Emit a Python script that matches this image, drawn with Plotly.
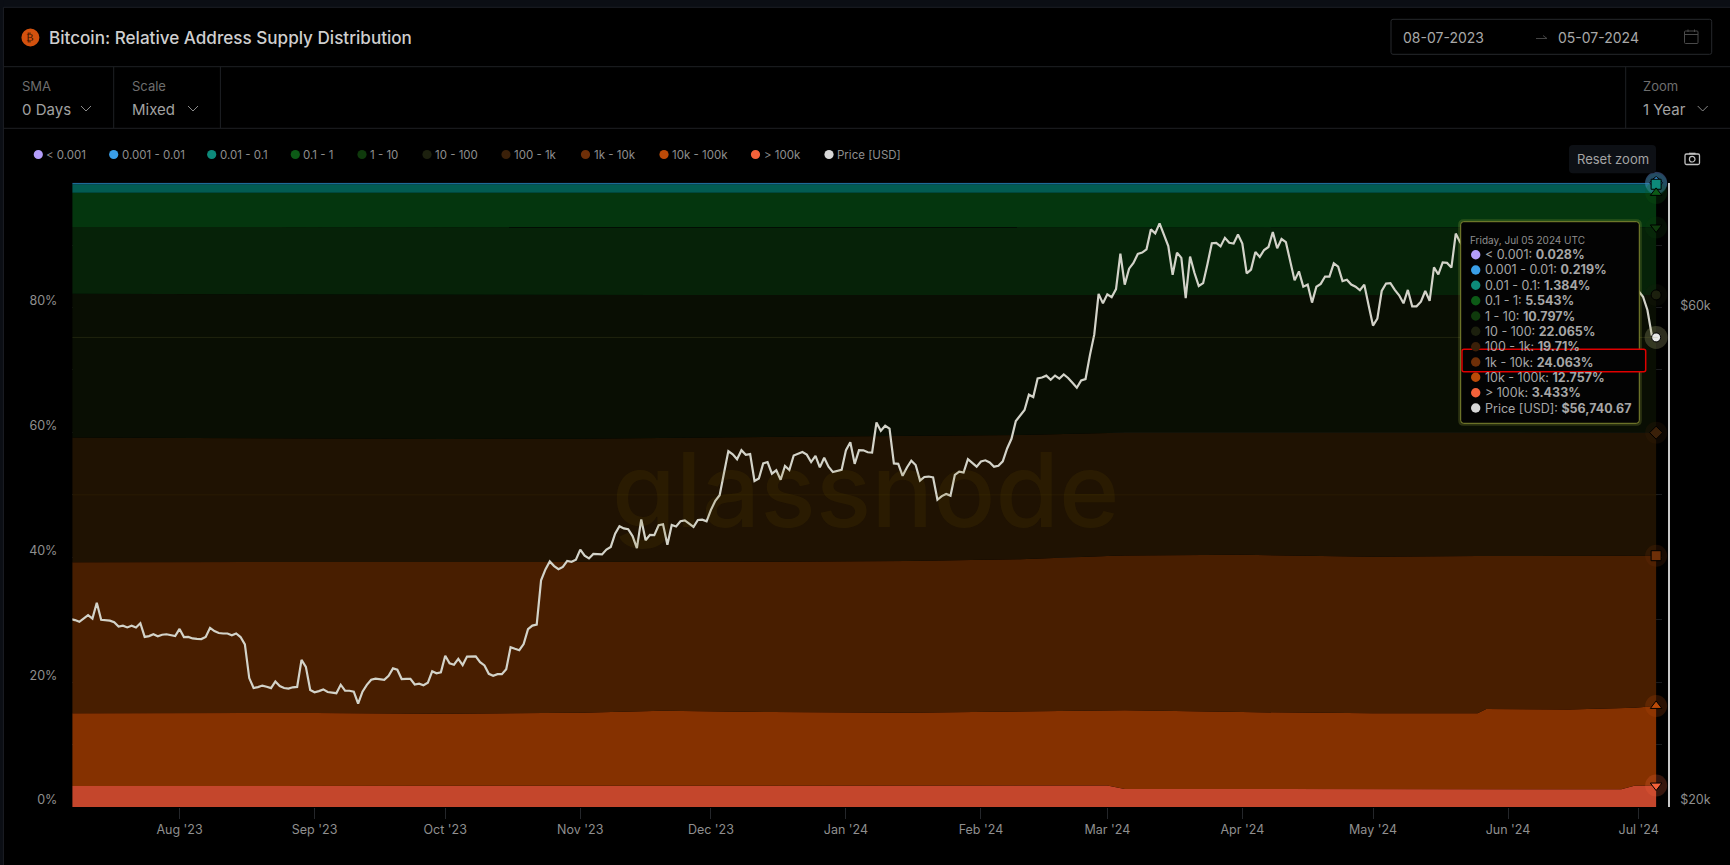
import numpy as np
import pandas as pd
import plotly.graph_objects as go

# ---------- data ----------
price_jul23 = [30350,30290,30170,30410,30620,30390,31480,30310,30290,30250,30140,29860,29920,29800,29910,29800,30080,29180,29230,29350,29220,29320,29350,29280,29230]
price_aug23 = [29700,29170,29180,29080,29050,29040,29180,29770,29560,29430,29400,29400,29280,29400,29170,28700,26630,26050,26100,26190,26120,26040,26430,26160,26050,26010,26090,26110,27730,27300,25930]
price_sep23 = [25800,25870,25970,25820,25790,25750,26240,25900,25890,25840,25160,25840,26230,26530,26600,26570,26530,26760,27210,27130,26570,26580,26580,26250,26300,26210,26350,27030,26910,26970]
price_oct23 = [27980,27510,27430,27790,27410,27930,27960,27950,27590,27390,26880,26760,26860,26860,27160,28520,28420,28330,28720,29680,29920,29990,33090,33900,34500,34150,33910,34090,34540,34480,34640]
price_nov23 = [35420,34940,34730,35080,35050,35040,35420,35630,36700,37310,37130,37060,36500,35540,37880,36160,36600,36580,37390,37470,35810,37410,37290,37720,37790,37480,37250,37830,37850,37710]
price_dec23 = [38690,39470,39970,41990,44080,43770,43290,44170,43720,43790,41250,41480,42890,43020,41930,42240,41360,42650,42270,43650,43860,43990,43740,43020,43610,42520,43440,42580,42070,42140,42280]
price_jan24 = [44180,44950,42850,44180,44160,43970,43930,46970,46110,46630,46340,42890,42850,41730,42510,43150,42740,41280,41620,41660,41580,39570,39890,40080,39930,41820,42120,42030,43300,42940,42580]
price_feb24 = [43080,43190,42990,42580,42660,43090,44340,45300,47130,47770,48290,49960,49700,51800,51900,52120,51650,52130,51780,52260,51850,51300,50740,51570,51730,54520,57090,62500,61200]
price_mar24 = [62440,62030,63170,68330,63800,66100,66930,68300,68500,69000,72120,71480,73100,71400,69500,65200,68500,67700,61900,67900,65500,63600,64000,66800,69950,70000,69450,70780,70000,69900,71300]
price_apr24 = [69900,65400,65970,68600,67840,68900,69360,71700,69150,70600,70100,67400,64400,65700,63500,63800,61300,63500,63900,64950,64950,66880,66400,64300,64500,63800,63500,63000,63800,60900]
price_may24 = [58250,59150,62900,63950,64000,63050,62300,61200,63050,60800,60800,61420,62900,61550,66280,65250,67030,66950,66250,71450,70100,69150,67900,68500,69300,68500,69400,68350,67650,68350,67500]
price_jun24 = [67750,67750,68800,70550,71100,70800,69350,69300,69650,69500,67300,68250,66750,66000,66200,66650,66500,65150,64960,64850,64100,64260,63200,60280,61800,60860,61700,60300,60900,62700]
price_jul24 = [62850,62100,60300,57050,56740.67]

band_dates = ["2023-07-07","2023-08-01","2023-09-01","2023-10-01","2023-11-01","2023-11-20","2023-12-15","2024-01-15","2024-02-10","2024-03-01","2024-03-05","2024-04-01","2024-05-01","2024-05-25","2024-05-27","2024-06-15","2024-06-27","2024-06-30","2024-07-05"]
share_gt100k   = [3.36,3.36,3.36,3.36,3.40,3.42,3.42,3.44,3.45,3.45,2.90,2.85,2.83,2.83,2.83,2.83,2.83,3.40,3.433]
share_10k_100k = [11.64,11.69,11.69,11.59,11.70,11.98,11.78,11.66,11.85,12.05,12.60,12.35,12.17,12.17,12.87,12.77,12.97,12.50,12.757]
share_1k_10k   = [24.2,24.15,24.15,24.25,24.1,23.85,24.1,24.3,24.4,24.7,24.8,25.2,25.1,25.2,24.5,24.6,24.4,24.3,24.063]
share_100_1k   = [20.0,19.9,19.8,19.75,19.8,19.85,19.9,20.0,19.9,19.7,19.7,19.6,19.9,19.8,19.8,19.8,19.8,19.8,19.71]
share_10_100   = [23.0,23.05,23.1,23.1,23.0,22.9,22.8,22.6,22.4,22.1,22.0,22.0,22.0,22.0,22.0,22.0,22.0,22.0,22.065]
share_1_10     = [10.7,10.75,10.75,10.8,10.85,10.85,10.85,10.85,10.8,10.8,10.8,10.8,10.8,10.8,10.8,10.8,10.8,10.8,10.797]
share_01_1     = [5.5,5.5,5.55,5.55,5.55,5.55,5.55,5.55,5.55,5.55,5.55,5.55,5.55,5.55,5.55,5.55,5.55,5.55,5.543]
share_001_01   = [1.35,1.35,1.35,1.35,1.35,1.35,1.36,1.36,1.37,1.37,1.38,1.38,1.38,1.38,1.38,1.38,1.38,1.38,1.384]
share_0001_001 = [0.22,0.22,0.22,0.22,0.22,0.22,0.22,0.22,0.22,0.22,0.22,0.22,0.22,0.22,0.22,0.22,0.22,0.22,0.219]
share_lt0001   = [0.03,0.03,0.03,0.03,0.03,0.03,0.03,0.03,0.03,0.03,0.03,0.03,0.03,0.03,0.03,0.03,0.03,0.03,0.028]

legend_names = ["< 0.001","0.001 - 0.01","0.01 - 0.1","0.1 - 1","1 - 10","10 - 100","100 - 1k","1k - 10k","10k - 100k","> 100k","Price [USD]"]
tooltip_values = ["0.028%","0.219%","1.384%","5.543%","10.797%","22.065%","19.71%","24.063%","12.757%","3.433%","$56,740.67"]
tick_dates = ["2023-08-01","2023-09-01","2023-10-01","2023-11-01","2023-12-01","2024-01-01","2024-02-01","2024-03-01","2024-04-01","2024-05-01","2024-06-01","2024-07-01"]
tick_labels = ["Aug '23","Sep '23","Oct '23","Nov '23","Dec '23","Jan '24","Feb '24","Mar '24","Apr '24","May '24","Jun '24","Jul '24"]
pct_ticks = [0,10,20,30,40,50,60,70,80,90]
pct_labels = ["0%","","20%","","40%","","60%","","80%",""]
price_ticks = [20000,60000]
price_labels = ["$20k","$60k"]

# ---------- styles ----------
W, H = 1730, 865
FONT = "Inter"
dot_colors = ["#b39dfa","#3a9fe8","#0d8a7a","#0c5a16","#0f3a0c","#1c200e","#3a2009","#6e2f08","#bb4a08","#f4623a","#d8d8d8"]
fill_colors = ["#7a6ab0","#1d6a96","#025c52","#04360e","#062208","#090e03","#1f1202","#481e00","#853100","#c4462c"]
marker_symbols = ["circle","diamond","square","triangle-up","triangle-down","circle","diamond","square","triangle-up","triangle-down"]

def px(x): return x / W
def py(y): return 1 - y / H

prices = price_jul23+price_aug23+price_sep23+price_oct23+price_nov23+price_dec23+price_jan24+price_feb24+price_mar24+price_apr24+price_may24+price_jun24+price_jul24
price_dates = pd.date_range("2023-07-07", periods=len(prices), freq="D")
stack_bottom_up = [share_gt100k,share_10k_100k,share_1k_10k,share_100_1k,share_10_100,share_1_10,share_01_1,share_001_01,share_0001_001,share_lt0001]

fig = go.Figure()
for i, vals in enumerate(stack_bottom_up):
    idx = 9 - i
    fig.add_trace(go.Scatter(x=band_dates, y=vals, name=legend_names[idx], stackgroup="bands",
                             mode="lines", line=dict(width=0), fillcolor=fill_colors[idx],
                             hoverinfo="skip", showlegend=False, yaxis="y"))
fig.add_trace(go.Scatter(x=price_dates, y=prices, name="Price [USD]", mode="lines",
                         line=dict(color="#d3d3c9", width=2.2), yaxis="y2", showlegend=False, hoverinfo="skip"))

# hover markers at the last date (halo, then symbol), drawn from the top of the stack down
last = band_dates[-1]
cum = np.cumsum([v[-1] for v in stack_bottom_up])
for i, c in reversed(list(enumerate(cum))):
    idx = 9 - i
    fig.add_trace(go.Scatter(x=[last], y=[c], mode="markers", yaxis="y", showlegend=False, hoverinfo="skip", cliponaxis=False,
                             marker=dict(size=22, color=dot_colors[idx], opacity=0.22, line=dict(width=0))))
for i, c in reversed(list(enumerate(cum))):
    idx = 9 - i
    fig.add_trace(go.Scatter(x=[last], y=[c], mode="markers", yaxis="y", showlegend=False, hoverinfo="skip", cliponaxis=False,
                             marker=dict(size=10, color=dot_colors[idx], symbol=marker_symbols[idx], line=dict(width=1, color="#000"))))
fig.add_trace(go.Scatter(x=[price_dates[-1]], y=[prices[-1]], mode="markers", yaxis="y2", showlegend=False, hoverinfo="skip", cliponaxis=False,
                         marker=dict(size=23, color="#b8b880", opacity=0.25, line=dict(width=0))))
fig.add_trace(go.Scatter(x=[price_dates[-1]], y=[prices[-1]], mode="markers", yaxis="y2", showlegend=False, hoverinfo="skip", cliponaxis=False,
                         marker=dict(size=9, color="#e8e8e8", line=dict(width=1, color="#000"))))

shapes, notes = [], []

def rect(x0, y0, x1, y1, fill=None, line=None, lw=1, layer="above"):
    shapes.append(dict(type="rect", xref="paper", yref="paper", x0=px(x0), x1=px(x1), y0=py(y0), y1=py(y1),
                       fillcolor=fill or "rgba(0,0,0,0)", line=dict(color=line or "rgba(0,0,0,0)", width=lw if line else 0), layer=layer))
def seg(x0, y0, x1, y1, color, lw=1, layer="above"):
    shapes.append(dict(type="line", xref="paper", yref="paper", x0=px(x0), x1=px(x1), y0=py(y0), y1=py(y1),
                       line=dict(color=color, width=lw), layer=layer))
def circ(cx, cy, r, fill, line=None, lw=1):
    shapes.append(dict(type="circle", xref="paper", yref="paper", x0=px(cx-r), x1=px(cx+r), y0=py(cy+r), y1=py(cy-r),
                       fillcolor=fill, line=dict(color=line or "rgba(0,0,0,0)", width=lw if line else 0), layer="above"))
def round_path(x0, y0, x1, y1, r):
    pts = [(x0+r,y0),(x1-r,y0),(x1,y0),(x1,y0+r),(x1,y1-r),(x1,y1),(x1-r,y1),(x0+r,y1),(x0,y1),(x0,y1-r),(x0,y0+r),(x0,y0),(x0+r,y0)]
    p = [(px(a),py(b)) for a,b in pts]
    return (f"M{p[0][0]},{p[0][1]} L{p[1][0]},{p[1][1]} Q{p[2][0]},{p[2][1]} {p[3][0]},{p[3][1]} L{p[4][0]},{p[4][1]} "
            f"Q{p[5][0]},{p[5][1]} {p[6][0]},{p[6][1]} L{p[7][0]},{p[7][1]} Q{p[8][0]},{p[8][1]} {p[9][0]},{p[9][1]} "
            f"L{p[10][0]},{p[10][1]} Q{p[11][0]},{p[11][1]} {p[12][0]},{p[12][1]} Z")
def rrect(x0, y0, x1, y1, r, fill=None, line=None, lw=1):
    shapes.append(dict(type="path", xref="paper", yref="paper", path=round_path(x0,y0,x1,y1,r),
                       fillcolor=fill or "rgba(0,0,0,0)", line=dict(color=line or "rgba(0,0,0,0)", width=lw if line else 0), layer="above"))
def text(x, y, s, size=13, color="#9a9a9a", anchor="left", weight=None, font=FONT):
    f = dict(family=font, size=size, color=color)
    if weight: f["weight"] = weight
    notes.append(dict(xref="paper", yref="paper", x=px(x), y=py(y), text=s, showarrow=False,
                      xanchor=anchor, yanchor="middle", font=f, borderpad=0, borderwidth=0))
def chevron(cx, cy, c="#8a8a8a"):
    seg(cx-5, cy-3, cx, cy+2, c, 1); seg(cx, cy+2, cx+5, cy-3, c, 1)

# page chrome
LINE = "#1e2024"
rect(0, 0, W, 7.3, fill="#0b0e14", layer="below")
rect(0, 0, 3.4, H, fill="#0b0e14", layer="below")
seg(3.4, 7.3, W, 7.3, "#1c1f25", 1, "below")
seg(3.4, 7.3, 3.4, H, "#1c1f25", 1, "below")
seg(3.4, 66.7, W, 66.7, LINE, 1, "below")
seg(3.4, 128.3, W, 128.3, LINE, 1, "below")
seg(113.7, 66.7, 113.7, 128.3, LINE, 1, "below")
seg(220.4, 66.7, 220.4, 128.3, LINE, 1, "below")
seg(1625.7, 66.7, 1625.7, 128.3, LINE, 1, "below")

circ(30.4, 37.5, 9, "#d2510e")
text(30.4, 37.5, "₿", 11, "#3d1500", "center", font="DejaVu Sans")
text(48.5, 38, "Bitcoin: Relative Address Supply Distribution", 17.1, "#cfcfcf", weight=500)

rrect(1391, 19.3, 1711.7, 54.3, 2, None, "#26282c", 1)
text(1403.3, 37.5, "08-07-2023", 14, "#a8a8a8")
text(1558.3, 37.5, "05-07-2024", 14, "#a8a8a8")
seg(1536, 38.5, 1547, 38.5, "#444", 1); seg(1543, 35.5, 1547, 38.5, "#444", 1)
rrect(1684.5, 31, 1698, 43.5, 1, None, "#4a4a4a", 1); seg(1684.5, 34.5, 1698, 34.5, "#4a4a4a", 1)
seg(1688, 29.5, 1688, 32, "#4a4a4a", 1); seg(1694.5, 29.5, 1694.5, 32, "#4a4a4a", 1)

text(22, 86, "SMA", 13, "#6e6e6e"); text(22, 109, "0 Days", 15, "#a2a2a2"); chevron(86, 109)
text(132, 86, "Scale", 13, "#6e6e6e"); text(132, 109, "Mixed", 15, "#a2a2a2"); chevron(193, 109)
text(1643.3, 86, "Zoom", 13, "#6e6e6e"); text(1643.3, 109, "1 Year", 15, "#a2a2a2"); chevron(1702.7, 109)

# legend row
legend_x = [38.3,113.7,211.7,295.3,362,427,506,585.5,664,755.5,829]
for xx, name, c in zip(legend_x, legend_names, dot_colors):
    circ(xx, 154.5, 4.6, c)
    text(xx + 8, 154.5, name, 11.5, "#8e8e8e")

# reset zoom + camera
rrect(1569, 145, 1656, 173.3, 4, "#0d1015")
text(1612.5, 159, "Reset zoom", 13, "#a4a4a4", "center")
rrect(1685, 154, 1699.5, 164.5, 1.5, None, "#c2c2c2", 1.3)
seg(1689, 153.5, 1695.5, 153.5, "#c2c2c2", 1.6)
circ(1692.2, 159.2, 2.8, "rgba(0,0,0,0)", "#c2c2c2", 1.2)

# crosshair at hovered price
shapes.append(dict(type="line", xref="paper", yref="y2", x0=px(72.4), x1=px(1657.7), y0=prices[-1], y1=prices[-1],
                   line=dict(color="rgba(125,125,60,0.20)", width=1), layer="above"))
# faint 50% grid visible through the bands
shapes.append(dict(type="line", xref="paper", yref="y", x0=px(72.4), x1=px(1657.7), y0=50, y1=50,
                   line=dict(color="rgba(120,90,20,0.12)", width=1), layer="above"))

# watermark
text(866, 489, "glassnode", 103, "rgba(125,95,0,0.12)", "center", weight=500)

# tooltip
rrect(1460.7, 221.7, 1639.3, 423.3, 3, "rgba(0,0,0,0)", "rgba(170,180,70,0.22)", 5)
rrect(1460.7, 221.7, 1639.3, 423.3, 3, "#030303", "#7f8530", 1)
text(1470, 240.3, "Friday, Jul 05 2024 UTC", 10, "#8f8f8f")
rows_y = [254.7,270,285.3,300.7,316,331.3,346.7,362,377.3,392.7,408]
rrect(1462, 349.3, 1645.7, 371.7, 2, "#030303", "#e00000", 1.5)
for yy, name, val, c in zip(rows_y, legend_names, tooltip_values, dot_colors):
    circ(1475.7, yy, 4.7, c)
    text(1485.3, yy, f"{name}: <b>{val}</b>", 12.5, "#a6a6a6")

fig.update_layout(
    width=W, height=H, autosize=False, margin=dict(l=0, r=0, t=0, b=0, autoexpand=False),
    paper_bgcolor="#000000", plot_bgcolor="#000000", showlegend=False, hovermode=False,
    font=dict(family=FONT, color="#8f8f8f", size=13),
    shapes=shapes, annotations=notes,
    xaxis=dict(domain=[px(72.4), px(1662)], type="date",
               range=["2023-07-07 09:36", "2024-07-06 08:24"],
               tickmode="array", tickvals=tick_dates, ticktext=tick_labels,
               ticks="outside", ticklen=11, tickwidth=1, tickcolor="#24262a",
               tickfont=dict(family=FONT, size=12.5, color="#8f8f8f"),
               showgrid=False, zeroline=False, showline=False, anchor="y"),
    yaxis=dict(domain=[py(807), py(182.7)], range=[0, 100],
               tickmode="array", tickvals=pct_ticks, ticktext=pct_labels,
               ticks="", ticklabelshift=-7, ticklabelstandoff=14,
               tickfont=dict(family=FONT, size=12.5, color="#8f8f8f"),
               showgrid=True, gridcolor="#1a1b1d", gridwidth=1, zeroline=False, showline=False, anchor="x"),
    yaxis2=dict(type="log", range=[np.log10(20000), np.log10(80000)], overlaying="y", side="right",
                anchor="free", position=px(1668.7), tickmode="array", tickvals=price_ticks, ticktext=price_labels,
                ticks="", ticklabelshift=-7, ticklabelstandoff=8,
                tickfont=dict(family=FONT, size=12.5, color="#8f8f8f"),
                showgrid=False, zeroline=False, showline=True, linecolor="#c8c8c8", linewidth=2),
)

fig.write_html("out.html", config=dict(displayModeBar=False),
               post_script="document.body.style.margin='0';document.body.style.overflow='hidden';document.body.style.background='#000';")
